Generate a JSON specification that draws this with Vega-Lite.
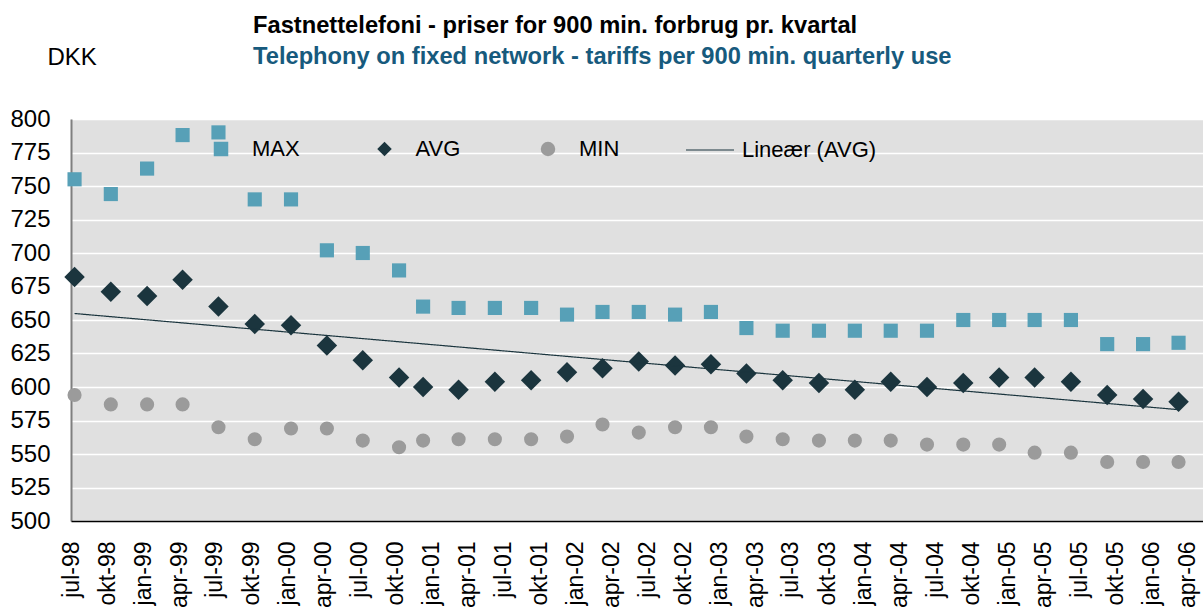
{
  "$schema": "https://vega.github.io/schema/vega-lite/v6.json",
  "width": 1132,
  "height": 402,
  "autosize": {"type": "none"},
  "padding": {"left": 71, "top": 119, "right": 0, "bottom": 93},
  "background": "#ffffff",
  "config": {
    "view": {"fill": "#e0e0e0", "stroke": null},
    "font": "Liberation Sans",
    "locale": {
      "time": {
        "dateTime": "%A den %d. %B %Y %X",
        "date": "%d-%m-%Y",
        "time": "%H:%M:%S",
        "periods": ["AM", "PM"],
        "days": ["søndag", "mandag", "tirsdag", "onsdag", "torsdag", "fredag", "lørdag"],
        "shortDays": ["søn", "man", "tir", "ons", "tor", "fre", "lør"],
        "months": ["januar", "februar", "marts", "april", "maj", "juni", "juli", "august", "september", "oktober", "november", "december"],
        "shortMonths": ["jan", "feb", "mar", "apr", "maj", "jun", "jul", "aug", "sep", "okt", "nov", "dec"]
      }
    }
  },
  "title": {
    "text": "Fastnettelefoni - priser for 900 min. forbrug pr. kvartal",
    "subtitle": "Telephony on fixed network - tariffs per 900 min. quarterly use",
    "anchor": "start",
    "frame": "group",
    "dx": 182,
    "offset": -24,
    "font": "Liberation Sans",
    "fontSize": 23.7,
    "fontWeight": "bold",
    "color": "#000000",
    "subtitleFont": "Liberation Sans",
    "subtitleFontSize": 23.7,
    "subtitleFontWeight": "bold",
    "subtitleColor": "#175a7d",
    "subtitlePadding": 8
  },
  "data": {
    "values": [
      {"q": "jul-98", "date": "1998-07-10", "MAX": 755, "AVG": 682, "MIN": 594},
      {"q": "okt-98", "date": "1998-10-10", "MAX": 744, "AVG": 671, "MIN": 587},
      {"q": "jan-99", "date": "1999-01-10", "MAX": 763, "AVG": 668, "MIN": 587},
      {"q": "apr-99", "date": "1999-04-10", "MAX": 788, "AVG": 680, "MIN": 587},
      {"q": "jul-99", "date": "1999-07-10", "MAX": 790, "AVG": 660, "MIN": 570},
      {"q": "okt-99", "date": "1999-10-10", "MAX": 740, "AVG": 647, "MIN": 561},
      {"q": "jan-00", "date": "2000-01-10", "MAX": 740, "AVG": 646, "MIN": 569},
      {"q": "apr-00", "date": "2000-04-10", "MAX": 702, "AVG": 631, "MIN": 569},
      {"q": "jul-00", "date": "2000-07-10", "MAX": 700, "AVG": 620, "MIN": 560},
      {"q": "okt-00", "date": "2000-10-10", "MAX": 687, "AVG": 607, "MIN": 555},
      {"q": "jan-01", "date": "2000-12-10", "MAX": 660, "AVG": 600, "MIN": 560},
      {"q": "apr-01", "date": "2001-03-10", "MAX": 659, "AVG": 598, "MIN": 561},
      {"q": "jul-01", "date": "2001-06-10", "MAX": 659, "AVG": 604, "MIN": 561},
      {"q": "okt-01", "date": "2001-09-10", "MAX": 659, "AVG": 605, "MIN": 561},
      {"q": "jan-02", "date": "2001-12-10", "MAX": 654, "AVG": 611, "MIN": 563},
      {"q": "apr-02", "date": "2002-03-10", "MAX": 656, "AVG": 614, "MIN": 572},
      {"q": "jul-02", "date": "2002-06-10", "MAX": 656, "AVG": 619, "MIN": 566},
      {"q": "okt-02", "date": "2002-09-10", "MAX": 654, "AVG": 616, "MIN": 570},
      {"q": "jan-03", "date": "2002-12-10", "MAX": 656, "AVG": 617, "MIN": 570},
      {"q": "apr-03", "date": "2003-03-10", "MAX": 644, "AVG": 610, "MIN": 563},
      {"q": "jul-03", "date": "2003-06-10", "MAX": 642, "AVG": 605, "MIN": 561},
      {"q": "okt-03", "date": "2003-09-10", "MAX": 642, "AVG": 603, "MIN": 560},
      {"q": "jan-04", "date": "2003-12-10", "MAX": 642, "AVG": 598, "MIN": 560},
      {"q": "apr-04", "date": "2004-03-10", "MAX": 642, "AVG": 604, "MIN": 560},
      {"q": "jul-04", "date": "2004-06-10", "MAX": 642, "AVG": 600, "MIN": 557},
      {"q": "okt-04", "date": "2004-09-10", "MAX": 650, "AVG": 603, "MIN": 557},
      {"q": "jan-05", "date": "2004-12-10", "MAX": 650, "AVG": 607, "MIN": 557},
      {"q": "apr-05", "date": "2005-03-10", "MAX": 650, "AVG": 607, "MIN": 551},
      {"q": "jul-05", "date": "2005-06-10", "MAX": 650, "AVG": 604, "MIN": 551},
      {"q": "okt-05", "date": "2005-09-10", "MAX": 632, "AVG": 594, "MIN": 544},
      {"q": "jan-06", "date": "2005-12-10", "MAX": 632, "AVG": 591, "MIN": 544},
      {"q": "apr-06", "date": "2006-03-10", "MAX": 633, "AVG": 589, "MIN": 544}
    ],
    "format": {"parse": {"date": "date"}}
  },
  "encoding": {
    "x": {
      "field": "date",
      "type": "temporal",
      "scale": {
        "type": "utc",
        "domain": [
          {"year": 1998, "month": 7, "date": 1, "utc": true},
          {"year": 2006, "month": 5, "date": 11, "utc": true}
        ]
      },
      "axis": {
        "title": null,
        "labelExpr": "utcFormat(datum.value, '%b-%y')",
        "tickCount": {"interval": "month", "step": 3},
        "labelAngle": -90,
        "labelFont": "Liberation Sans",
        "labelFontSize": 23,
        "labelColor": "#000000",
        "labelPadding": 20,
        "labelOverlap": false,
        "labelFlush": false,
        "labelBound": false,
        "ticks": false,
        "grid": false,
        "domainColor": "#000000",
        "domainWidth": 1.5,
        "zindex": 1
      }
    },
    "y": {
      "field": "value",
      "type": "quantitative",
      "scale": {"domain": [500, 800], "nice": false, "zero": false},
      "axis": {
        "values": [500, 525, 550, 575, 600, 625, 650, 675, 700, 725, 750, 775, 800],
        "title": "DKK",
        "titleAngle": 0,
        "titleX": -24,
        "titleY": -55,
        "titleAlign": "left",
        "titleBaseline": "alphabetic",
        "titleFont": "Liberation Sans",
        "titleFontSize": 24,
        "titleFontWeight": "normal",
        "titleColor": "#000000",
        "labelFont": "Liberation Sans",
        "labelFontSize": 24,
        "labelColor": "#000000",
        "labelPadding": 21,
        "labelOverlap": false,
        "labelFlush": false,
        "ticks": false,
        "grid": true,
        "gridColor": "#ffffff",
        "gridWidth": 1.5,
        "domainColor": "#7f7f7f",
        "domainWidth": 2
      }
    }
  },
  "layer": [
    {
      "transform": [{"fold": ["MAX", "AVG", "MIN"], "as": ["series", "value"]}],
      "mark": {"type": "point", "filled": true, "opacity": 1},
      "encoding": {
        "color": {
          "field": "series",
          "type": "nominal",
          "scale": {"domain": ["MAX", "AVG", "MIN"], "range": ["#57a0b7", "#1b353e", "#9b9b9b"]},
          "legend": {
            "orient": "none",
            "legendX": 139,
            "legendY": 19,
            "direction": "horizontal",
            "columns": 3,
            "gridAlign": "all",
            "columnPadding": 73.5,
            "title": null,
            "padding": 0,
            "labelFont": "Liberation Sans",
            "labelFontSize": 22,
            "labelColor": "#000000",
            "labelOffset": 20,
            "symbolSize": 210,
            "symbolStrokeWidth": 0,
            "symbolOpacity": 1
          }
        },
        "shape": {
          "field": "series",
          "type": "nominal",
          "scale": {"domain": ["MAX", "AVG", "MIN"], "range": ["square", "diamond", "circle"]}
        },
        "size": {
          "condition": {"test": "datum.series === 'AVG'", "value": 420},
          "value": 200
        }
      }
    },
    {
      "transform": [{"regression": "AVG", "on": "date", "as": ["date", "value"]}],
      "mark": {"type": "line", "color": "#1b353e", "strokeWidth": 1.2},
      "encoding": {
        "strokeDash": {
          "datum": "Lineær (AVG)",
          "type": "nominal",
          "scale": {"domain": ["Lineær (AVG)"], "range": [[1, 0]]},
          "legend": {
            "orient": "none",
            "legendX": 614,
            "legendY": 6,
            "title": null,
            "padding": 0,
            "labelFont": "Liberation Sans",
            "labelFontSize": 22,
            "labelColor": "#000000",
            "labelOffset": 7,
            "symbolType": "stroke",
            "symbolSize": 2304,
            "symbolStrokeColor": "#1b353e",
            "symbolStrokeWidth": 1.2
          }
        }
      }
    }
  ]
}
